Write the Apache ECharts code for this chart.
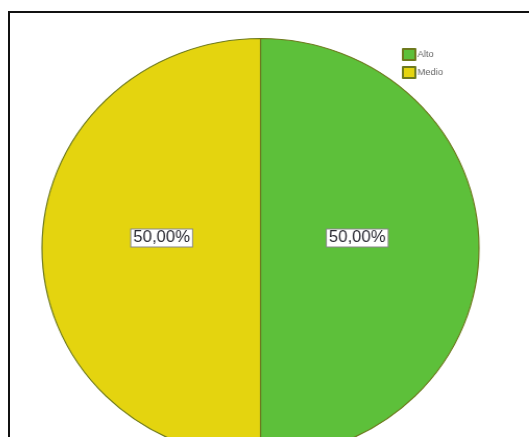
<!DOCTYPE html>
<html>
<head>
<meta charset="utf-8">
<script src="https://cdn.jsdelivr.net/npm/echarts@6/dist/echarts.min.js"></script>
<style>
  html, body { margin: 0; padding: 0; background: #fff; overflow: hidden; }
  #frame {
    position: absolute; left: 8px; top: 11px;
    width: 600px; height: 500px;
    border-left: 2px solid #111; border-top: 2px solid #111;
  }
  /* the pie is drawn slightly wider than tall */
  #chart {
    position: absolute; left: 0; top: 0;
    width: 529px; height: 437px;
    transform-origin: 260.5px 0;
    transform: scaleX(1.043);
  }
</style>
</head>
<body>
<div id="frame"></div>
<div id="chart"></div>
<script>
// Categories, shares (percent) and slice colours
const categories = ['Alto', 'Medio'];
const shares = [50.0, 50.0];
const colors = ['#5dc03a', '#e4d40f'];

const chart = echarts.init(document.getElementById('chart'), null, { renderer: 'canvas' });

const fmt = v => v.toFixed(2).replace('.', ',') + '%';

chart.setOption({
  backgroundColor: 'transparent',
  animation: false,
  color: colors,
  legend: {
    orient: 'vertical',
    left: 391,
    top: 43,
    itemWidth: 12,
    itemHeight: 11,
    itemGap: 5,
    icon: 'rect',
    textStyle: { fontFamily: 'Liberation Sans, Arial, sans-serif', fontSize: 9, color: '#666', padding: [0, 0, 0, -3] },
    data: categories
  },
  series: [{
    type: 'pie',
    center: [260.5, 248],
    radius: 209.5,
    startAngle: 90,
    clockwise: true,
    silent: true,
    itemStyle: { borderColor: '#6e7a1e', borderWidth: 1.2 },
    label: {
      show: true,
      position: 'inside',
      formatter: p => fmt(p.value),
      fontFamily: 'Liberation Sans, Arial, sans-serif',
      fontSize: 16,
      color: '#2a2a33',
      backgroundColor: '#fff',
      borderColor: '#888',
      borderWidth: 1,
      padding: [1, 2, 0, 2]
    },
    labelLine: { show: false },
    labelLayout: p => ({ dx: p.dataIndex === 0 ? -15 : 13, dy: -10 }),
    data: categories.map((c, i) => ({ name: c, value: shares[i] }))
  }]
});
</script>
</body>
</html>
